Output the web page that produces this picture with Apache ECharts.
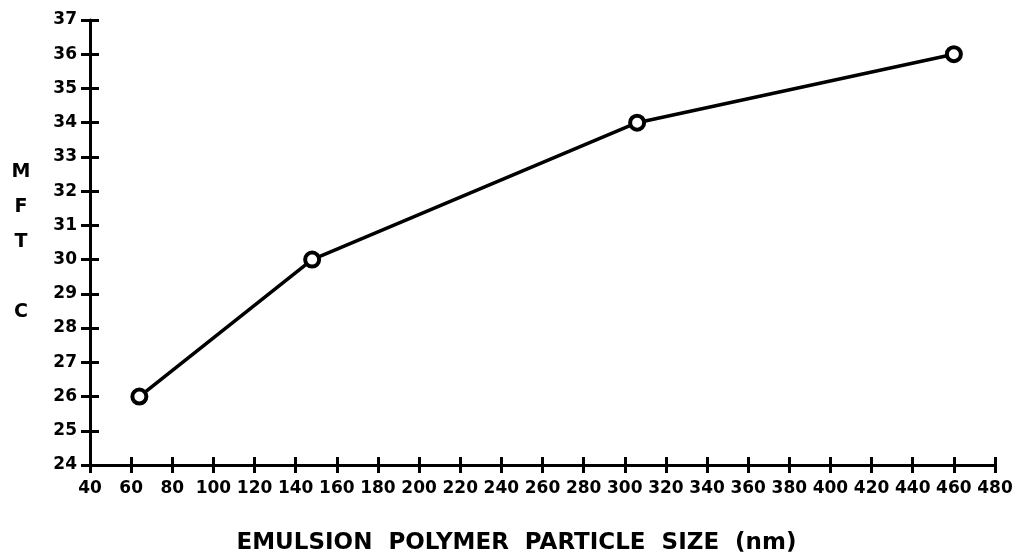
<!DOCTYPE html>
<html><head><meta charset="utf-8">
<script src="https://cdn.jsdelivr.net/npm/echarts@6/dist/echarts.min.js"></script>
<style>html,body{margin:0;padding:0;background:#fff}#c{width:1013px;height:554px}</style>
</head><body><div id="c"></div>
<script>
const particleSize = [64, 148, 306, 460];
const mft = [26, 30, 34, 36];
const xTicks = {min: 40, max: 480, interval: 20};
const yTicks = {min: 24, max: 37, interval: 1};

const font = '"DejaVu Sans", "Liberation Sans", Arial, sans-serif';
const chart = echarts.init(document.getElementById('c'));
const lineStyle = {color: '#000', width: 3};
function xAx(inside, main) {
  return {
    type: 'value', position: 'bottom', min: xTicks.min, max: xTicks.max, interval: xTicks.interval,
    axisLine: {show: main, lineStyle: lineStyle},
    axisTick: {show: true, inside: inside, length: 8, lineStyle: lineStyle},
    axisLabel: {show: main, margin: 15, color: '#000', fontFamily: font, fontWeight: 'bold', fontSize: 17},
    splitLine: {show: false},
    name: main ? 'EMULSION  POLYMER  PARTICLE  SIZE  (nm)' : '',
    nameLocation: 'middle', nameGap: 67,
    nameTextStyle: {color: '#000', fontFamily: font, fontWeight: 'bold', fontSize: 23, padding: [0, 52, 0, 0]}
  };
}
function yAx(inside, main) {
  return {
    type: 'value', position: 'left', min: yTicks.min, max: yTicks.max, interval: yTicks.interval,
    axisLine: {show: main, lineStyle: lineStyle},
    axisTick: {show: true, inside: inside, length: 9, lineStyle: lineStyle},
    axisLabel: {show: main, margin: 13, color: '#000', fontFamily: font, fontWeight: 'bold', fontSize: 17},
    splitLine: {show: false},
    name: main ? 'M\nF\nT\n\nC' : '',
    nameLocation: 'middle', nameGap: 69, nameRotate: 0,
    nameTextStyle: {color: '#000', fontFamily: font, fontWeight: 'bold', fontSize: 19, lineHeight: 35, align: 'center', padding: [85,0,0,0]}
  };
}
chart.setOption({
  animation: false,
  grid: {left: 90, right: 18, top: 20, bottom: 89, containLabel: false, outerBoundsMode: 'none'},
  xAxis: [xAx(false, true), xAx(true, false)],
  yAxis: [yAx(false, true), yAx(true, false)],
  series: [{
    type: 'line', xAxisIndex: 0, yAxisIndex: 0,
    data: particleSize.map((x, i) => [x, mft[i]]),
    lineStyle: {color: '#000', width: 3.5},
    symbol: 'circle', symbolSize: 14,
    itemStyle: {color: '#fff', borderColor: '#000', borderWidth: 4}
  }]
});
</script></body></html>
